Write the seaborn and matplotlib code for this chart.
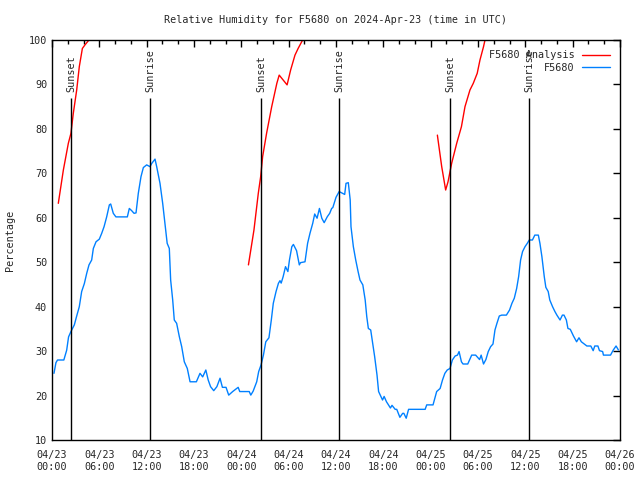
import pandas as pd
import seaborn as sns
import matplotlib.pyplot as plt

# observed relative humidity (hours since 04/23 00:00 UTC)
obs_hours = [0.25, 0.5, 0.7, 1.5, 1.86, 2.1, 2.4, 2.83, 3.1, 3.46, 3.76, 4.1, 4.4, 4.69, 5.03,
             5.24, 5.58, 6.0, 6.3, 6.6, 6.93, 7.27, 7.44, 7.77, 8.1, 9.55, 9.8, 10.1, 10.4, 10.65,
             10.94, 11.28, 11.58, 12.0, 12.42, 12.65, 13.06, 13.27, 13.69, 14.03, 14.32, 14.6, 14.87,
             15.04, 15.3, 15.5, 15.8, 16.14, 16.44, 16.77, 17.15, 17.5, 18.3, 18.76, 19.1, 19.5,
             19.8, 20.1, 20.5, 20.9, 21.3, 21.6, 22.06, 22.4, 22.9, 23.6, 23.8, 25.0, 25.2, 25.5,
             25.95, 26.2, 26.5, 26.8, 27.1, 27.5, 27.8, 28.05, 28.4, 28.7, 28.9, 29.05, 29.3, 29.6,
             29.9, 30.1, 30.4, 30.6, 31.0, 31.35, 31.5, 32.07, 32.4, 32.7, 33.05, 33.3, 33.6, 33.9,
             34.2, 34.5, 34.9, 35.2, 35.45, 35.6, 36.0, 36.4, 36.85, 37.1, 37.27, 37.56, 37.8, 37.9,
             38.2, 38.5, 38.8, 39.04, 39.4, 39.7, 39.9, 40.1, 40.4, 40.65, 40.9, 41.2, 41.4, 41.7,
             41.9, 42.1, 42.4, 42.75, 42.9, 43.1, 43.5, 43.7, 44.1, 44.45, 44.6, 44.9, 45.2, 47.3,
             47.5, 48.3, 48.76, 49.2, 49.5, 49.8, 50.1, 50.45, 50.75, 51.1, 51.4, 51.6, 51.9, 52.1,
             52.7, 53.2, 53.7, 54.2, 54.4, 54.7, 55.0, 55.3, 55.6, 55.9, 56.15, 56.4, 56.7, 57.0,
             57.6, 58.0, 58.3, 58.6, 58.9, 59.15, 59.4, 59.65, 59.96, 60.25, 60.5, 60.9, 61.2, 61.65,
             61.85, 62.1, 62.4, 62.6, 62.9, 63.1, 63.45, 63.75, 64.0, 64.4, 64.7, 64.9, 65.2, 65.4,
             65.7, 66.1, 66.5, 66.8, 67.1, 67.8, 68.3, 68.6, 68.8, 69.2, 69.4, 69.8, 69.9, 70.8,
             71.15, 71.5, 71.8]
obs_values = [25.0, 27.4, 28, 28, 30.2, 33.2, 34.4, 35.9, 37.7, 40, 43.4, 45.2, 47.5, 49.4, 50.5,
              53.1, 54.6, 55.2, 56.5, 58.0, 60.2, 62.9, 63.1, 61.0, 60.2, 60.2, 62.1, 61.6, 61.0, 61.1,
              65.5, 69.25, 71.3, 71.9, 71.5, 72.25, 73.2, 71.5, 67.75, 63.25, 58.75, 54.25, 53.1,
              46, 41.5, 37, 36.25, 33.25, 31, 27.6, 26.1, 23.1, 23.1, 25, 24.2, 25.75,
              23.5, 22, 21.1, 22, 23.9, 21.85, 21.85, 20.1, 20.9, 21.85, 20.9, 20.9, 20.1, 21.0,
              23.1, 25.4, 26.9, 29.1, 32.1, 33.0, 37, 40.75, 43.4, 45.25, 45.85, 45.3, 46.75, 49,
              47.9, 50.5, 53.5, 54, 52.6, 49.4, 49.9, 50.1, 54.25, 56.5, 58.75, 60.85, 59.9, 62.1,
              59.9, 58.9, 60.25, 61, 62.1, 62.3, 64.6, 65.9, 65.5, 65.25, 67.75, 67.9, 64, 58,
              53.5, 50.5, 47.9, 46, 44.9, 41.5, 37.75, 35.1, 34.75, 31.75, 28.75, 24.6, 20.9, 19.75,
              19, 19.8, 18.6, 17.65, 17.2, 17.8, 16.9, 16.9, 15.1, 16, 16, 14.9, 16.9, 16.9,
              17.9, 17.9, 20.9, 21.6, 23.5, 25, 25.75, 26.1, 28, 28.9, 29.1, 29.9, 27.6, 27.1,
              27.1, 29.1, 29.1, 28.1, 29.1, 27.1, 28.1, 29.9, 31, 31.6, 34.75, 36.25, 37.9, 38.1,
              38.1, 39.25, 40.75, 41.9, 44.1, 46.75, 50.5, 52.4, 53.5, 54.25, 55, 55, 56.1, 56.1,
              54.25, 51.25, 46.75, 44.35, 43.4, 41.5, 40, 38.9, 38.1, 37, 38.1, 38.1, 37, 35.1,
              34.9, 33.4, 32.1, 33, 32.1, 31.15, 31.15, 30.1, 31.15, 31.15, 30.1, 29.9, 29.1, 29.1,
              30.25, 31.15, 30.25]

# analysis series, three separate pieces
ana_hours_1 = [0.8, 1.44, 2.07, 2.4, 2.7, 3.13, 3.46, 3.85, 4.18, 4.73, 5.2]
ana_values_1 = [63.25, 70.75, 76.75, 79, 83.5, 88.75, 94, 98.1, 98.9, 100.1, 101.5]
ana_hours_2 = [24.9, 25.6, 26.15, 26.45, 26.7, 27.2, 27.85, 28.5, 28.8, 29.3, 29.8, 30.25,
               30.8, 31.2, 31.8, 32.3]
ana_values_2 = [49.4, 57.25, 65.5, 69.25, 73.75, 79, 85, 90.25, 92.1, 91, 89.9, 93.25,
                96.6, 98.1, 100.1, 101.5]
ana_hours_3 = [48.85, 49.4, 49.9, 50.2, 50.66, 51.3, 51.9, 52.35, 52.98, 53.4, 53.9, 54.25,
               54.7, 54.9, 55.4]
ana_values_3 = [78.6, 71.5, 66.25, 68.1, 72.25, 76.75, 80.5, 85, 88.75, 90.25, 92.5, 95.5,
                98.5, 100.1, 101.5]

sun_hours = [2.41, 12.42, 26.53, 36.42, 50.49, 60.5]
sun_labels = ['Sunset', 'Sunrise', 'Sunset', 'Sunrise', 'Sunset', 'Sunrise']

tick_hours = list(range(0, 73, 6))
tick_labels = ['04/23\n00:00', '04/23\n06:00', '04/23\n12:00', '04/23\n18:00',
               '04/24\n00:00', '04/24\n06:00', '04/24\n12:00', '04/24\n18:00',
               '04/25\n00:00', '04/25\n06:00', '04/25\n12:00', '04/25\n18:00',
               '04/26\n00:00']

sns.set_style('white')
plt.rcParams['font.family'] = ['DejaVu Sans Mono']
fs = 7.3

frames = []
for i, (h, v) in enumerate([(ana_hours_1, ana_values_1), (ana_hours_2, ana_values_2),
                            (ana_hours_3, ana_values_3)]):
    frames.append(pd.DataFrame({'hour': h, 'value': v, 'series': 'F5680 Analysis', 'seg': i}))
frames.append(pd.DataFrame({'hour': obs_hours, 'value': obs_values, 'series': 'F5680', 'seg': 9}))
df = pd.concat(frames, ignore_index=True)

fig = plt.figure(figsize=(6.4, 4.8), dpi=100)
ax = fig.add_axes([52 / 640, 40 / 480, 568 / 640, 400 / 480])

sns.lineplot(data=df, x='hour', y='value', hue='series', units='seg', estimator=None,
             palette={'F5680 Analysis': '#ff0000', 'F5680': '#0080ff'},
             hue_order=['F5680 Analysis', 'F5680'], linewidth=1, ax=ax)

ax.vlines(sun_hours, 10, 87, color='black', linewidth=1)
for h, lab in zip(sun_hours, sun_labels):
    ax.text(h, 88.3, lab, rotation=90, ha='center', va='bottom', fontsize=fs)

ax.set_xlim(0, 72)
ax.set_ylim(10, 100)
ax.set_xticks(tick_hours)
ax.set_xticklabels(tick_labels, fontsize=fs, linespacing=1.3)
ax.set_xticks(range(0, 73, 2), minor=True)
ax.set_yticks(range(10, 101, 10))
ax.tick_params(axis='y', labelsize=fs)
ax.tick_params(axis='x', pad=7)
ax.tick_params(which='both', direction='in', top=True, right=True, color='black')
ax.tick_params(which='major', length=5, width=1)
ax.tick_params(which='minor', length=3, width=1)
for s in ax.spines.values():
    s.set_color('black')
    s.set_linewidth(1)

ax.set_xlabel('')
ax.set_ylabel('Percentage', fontsize=fs, labelpad=10)
ax.set_title('Relative Humidity for F5680 on 2024-Apr-23 (time in UTC)', fontsize=fs, pad=12)

leg = ax.legend(loc='upper right', frameon=False, markerfirst=False, fontsize=fs,
                handlelength=2.7, handletextpad=0.8, borderaxespad=0.6, labelspacing=0.25)
for t in leg.get_texts():
    t.set_ha('right')

fig.savefig('out.png', dpi=100)
